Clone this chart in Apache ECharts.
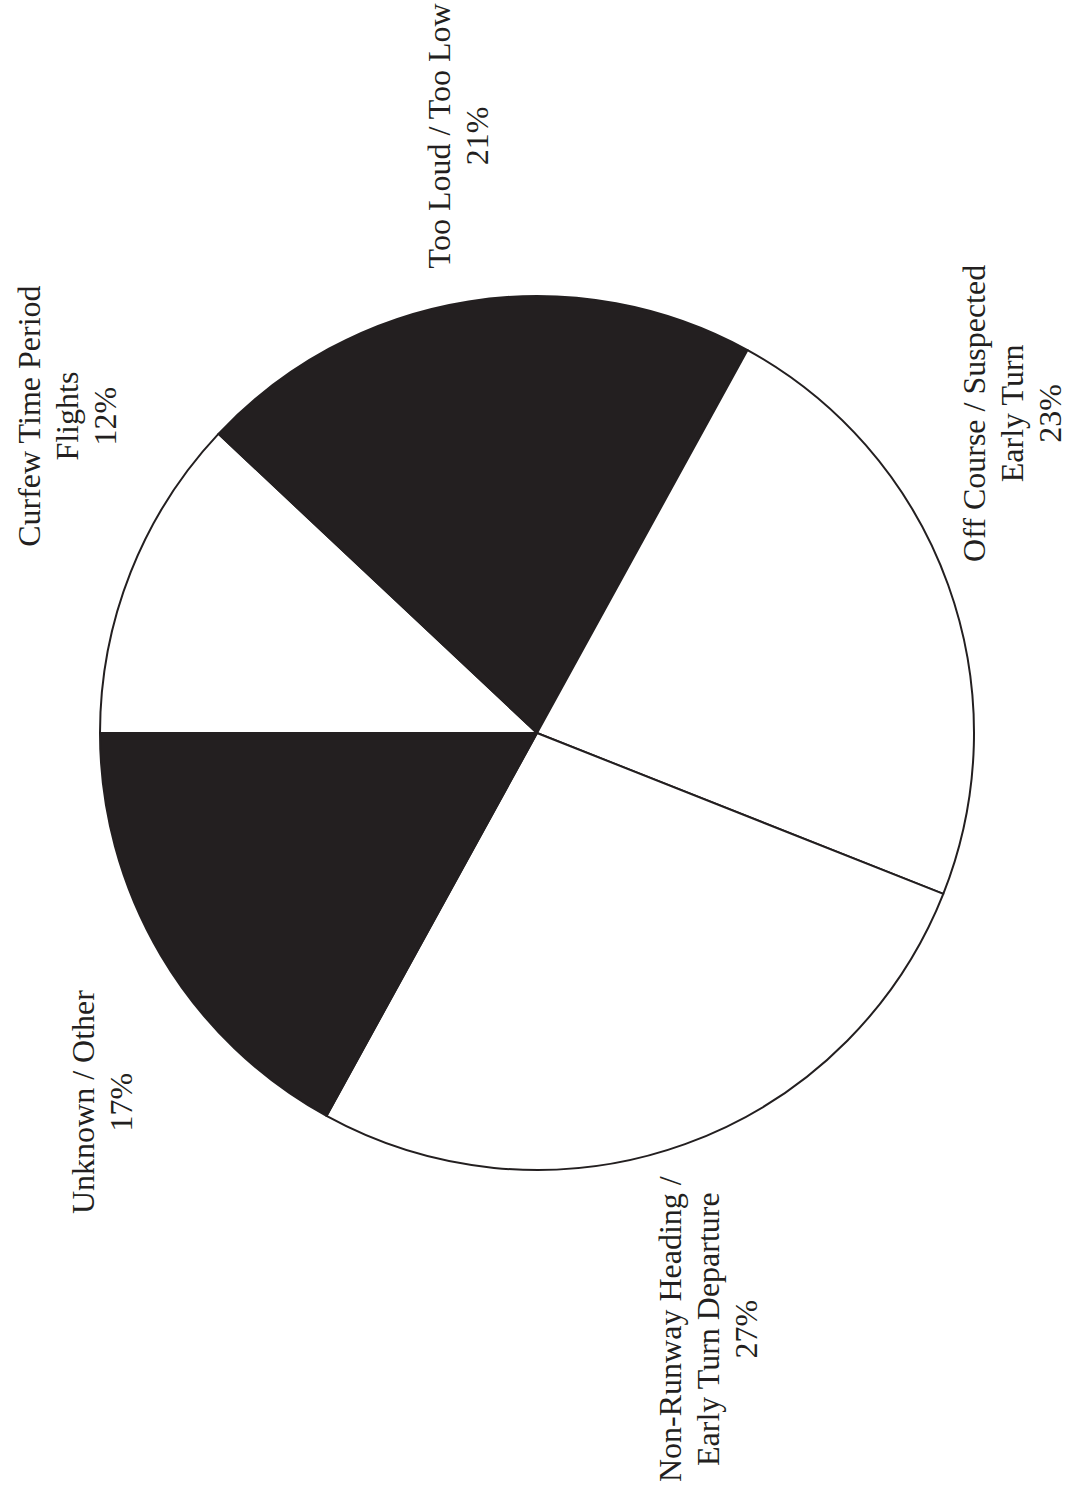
<!DOCTYPE html>
<html>
<head>
<meta charset="utf-8">
<title>Complaint Categories</title>
<script src="https://cdn.jsdelivr.net/npm/echarts@6/dist/echarts.min.js"></script>
<style>
  html, body { margin: 0; padding: 0; background: #ffffff; width: 1080px; height: 1485px; overflow: hidden; }
  /* The page is a landscape sheet turned onto a portrait page */
  #sheet {
    position: absolute; left: 0; top: 0;
    width: 1485px; height: 1080px;
    transform-origin: 0 0;
    transform: translateY(1485px) rotate(-90deg);
    background: #ffffff;
  }
</style>
</head>
<body>
<div id="sheet"></div>
<script>
// Complaint categories, clockwise from 12 o'clock
const categories = [
  'Curfew Time Period\nFlights',
  'Too Loud / Too Low',
  'Off Course / Suspected\nEarly Turn',
  'Non-Runway Heading /\nEarly Turn Departure',
  'Unknown / Other'
];
const shares = [12, 21, 23, 27, 17];
const fills = ['#ffffff', '#231f20', '#ffffff', '#ffffff', '#231f20'];

const PIE_CENTER = [752, 537];
const PIE_RADIUS = 437;
const LABEL_RADIUS = 505;
const START_ANGLE = 90;
const SHEET_MARGIN = 3;

const chart = echarts.init(document.getElementById('sheet'), null, { renderer: 'svg' });

const total = shares.reduce((a, b) => a + b, 0);

// Place each label just outside its slice: the inner edge of the text box sits
// on a ring around the pie, at the slice's middle angle, kept inside the sheet.
function placeLabel(params) {
  const i = params.dataIndex;
  let before = 0;
  for (let k = 0; k < i; k++) before += shares[k];
  const mid = (START_ANGLE - (before + shares[i] / 2) / total * 360) * Math.PI / 180;
  const w = params.labelRect.width;
  const h = params.labelRect.height;
  const ax = PIE_CENTER[0] + LABEL_RADIUS * Math.cos(mid);
  const ay = PIE_CENTER[1] - LABEL_RADIUS * Math.sin(mid);
  let left = Math.cos(mid) >= 0 ? ax : ax - w;
  const sheetW = chart.getWidth();
  if (left + w > sheetW - SHEET_MARGIN) left = sheetW - SHEET_MARGIN - w;
  if (left < SHEET_MARGIN) left = SHEET_MARGIN;
  let cy = ay;
  if (cy - h / 2 < SHEET_MARGIN) cy = SHEET_MARGIN + h / 2;
  return { x: left + w / 2, y: cy, align: 'center', verticalAlign: 'middle' };
}

chart.setOption({
  backgroundColor: '#ffffff',
  animation: false,
  series: [{
    type: 'pie',
    center: PIE_CENTER,
    radius: PIE_RADIUS,
    startAngle: START_ANGLE,
    clockwise: true,
    avoidLabelOverlap: false,
    percentPrecision: 0,
    data: categories.map((name, i) => ({
      name: name,
      value: shares[i],
      itemStyle: { color: fills[i] }
    })),
    itemStyle: { borderColor: '#231f20', borderWidth: 2 },
    label: {
      show: true,
      position: 'outside',
      formatter: '{b}\n{d}%',
      fontFamily: '"Liberation Serif", "DejaVu Serif", serif',
      fontSize: 32,
      lineHeight: 38,
      color: '#231f20',
      align: 'center'
    },
    labelLine: { show: false },
    labelLayout: placeLabel,
    emphasis: { disabled: true }
  }]
});
</script>
</body>
</html>
